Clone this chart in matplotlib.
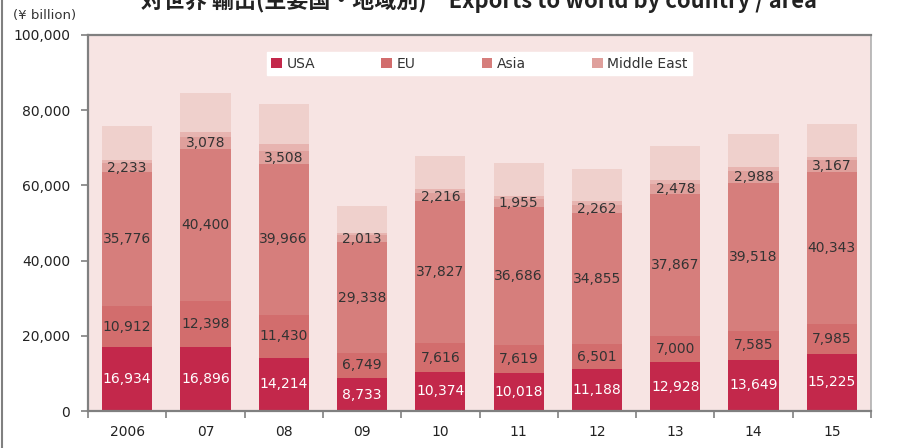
import matplotlib
matplotlib.use("Agg")
import matplotlib.pyplot as plt
from matplotlib.lines import Line2D
from matplotlib.ticker import FuncFormatter, FixedLocator
import numpy as np

years = ["2006", "07", "08", "09", "10", "11", "12", "13", "14", "15"]
usa = [16934, 16896, 14214, 8733, 10374, 10018, 11188, 12928, 13649, 15225]
eu = [10912, 12398, 11430, 6749, 7616, 7619, 6501, 7000, 7585, 7985]
asia = [35776, 40400, 39966, 29338, 37827, 36686, 34855, 37867, 39518, 40343]
middle_east = [2233, 3078, 3508, 2013, 2216, 1955, 2262, 2478, 2988, 3167]
minor_region = [800, 1500, 1900, 500, 900, 900, 1100, 1200, 1200, 900]
rest_of_world = [9100, 10300, 10600, 7200, 8900, 8800, 8500, 9000, 8800, 8700]

yticks = [0, 20000, 40000, 60000, 80000, 100000]

colors = {
    "USA": "#C3284B",
    "EU": "#D26D6D",
    "Asia": "#D67E7C",
    "Middle East": "#DFA09C",
    "minor": "#E7B4B0",
    "rest": "#EFD0CC",
}
bg = "#F7E4E3"
spine = "#808080"

fig = plt.figure(figsize=(9.01, 4.48), dpi=100)
W, H = 901, 448
ax = fig.add_axes([88 / W, (H - 411) / H, 783 / W, 376 / H])
ax.set_facecolor(bg)

x = np.arange(len(years))
bw = 0.64
series = [
    ("USA", usa, colors["USA"]),
    ("EU", eu, colors["EU"]),
    ("Asia", asia, colors["Asia"]),
    ("Middle East", middle_east, colors["Middle East"]),
    ("_minor", minor_region, colors["minor"]),
    ("_rest", rest_of_world, colors["rest"]),
]
bottom = np.zeros(len(years))
handles = []
for name, vals, col in series:
    vals = np.array(vals, dtype=float)
    bars = ax.bar(x, vals, bw, bottom=bottom, color=col, label=name,
                  linewidth=0, zorder=2)
    if not name.startswith("_"):
        handles.append(bars)
        tcol = "white" if name == "USA" else "#333333"
        for xi, b, v in zip(x, bottom, vals):
            ax.text(xi, b + v / 2, f"{int(v):,}", ha="center", va="center",
                    fontsize=10, color=tcol, zorder=3)
    bottom += vals

ax.set_xlim(-0.5, len(years) - 0.5)
ax.set_ylim(0, 100000)
ax.set_yticks(yticks)
ax.yaxis.set_major_formatter(FuncFormatter(lambda v, p: f"{int(v):,}"))
ax.set_xticks(x)
ax.set_xticklabels(years)
ax.xaxis.set_minor_locator(FixedLocator(np.arange(-0.5, len(years), 1.0)))
ax.tick_params(axis="x", which="major", length=0, pad=10, labelsize=10,
               labelcolor="#222222")
ax.tick_params(axis="x", which="minor", length=5, width=1.2, color=spine,
               direction="out")
ax.tick_params(axis="y", length=5, width=1.2, color=spine, pad=8,
               labelsize=10, labelcolor="#222222")

for side in ("left", "bottom", "top"):
    ax.spines[side].set_color(spine)
    ax.spines[side].set_linewidth(1.6)
ax.spines["right"].set_color("#B0B0B0")
ax.spines["right"].set_linewidth(1.2)

leg = ax.legend(handles=handles, labels=["USA", "EU", "Asia", "Middle East"],
                ncol=4, loc="center", mode="expand",
                bbox_to_anchor=(0.2197, 0.891, 0.5606, 0.066),
                frameon=True, fancybox=False, framealpha=1, edgecolor="white",
                facecolor="white", fontsize=10, handlelength=0.75,
                handleheight=0.75, handletextpad=0.35, borderpad=0.3,
                columnspacing=0.8)
for t in leg.get_texts():
    t.set_color("#333333")

fig.text(13 / W, 1 - 15 / H, "(¥ billion)", fontsize=9.5, color="#333333",
         ha="left", va="center")
fig.text(479 / W, 1 - 8 / H,
         "対世界 輸出(主要国・地域別)　Exports to world by country / area",
         fontsize=15.8, fontweight="bold", color="#222222", ha="center",
         va="baseline", family=["Noto Sans CJK JP", "DejaVu Sans"])

fig.add_artist(Line2D([2 / W, 2 / W], [0, 1], color=spine, lw=1.5,
                      transform=fig.transFigure))

fig.savefig("out.png", dpi=100, facecolor="white")
